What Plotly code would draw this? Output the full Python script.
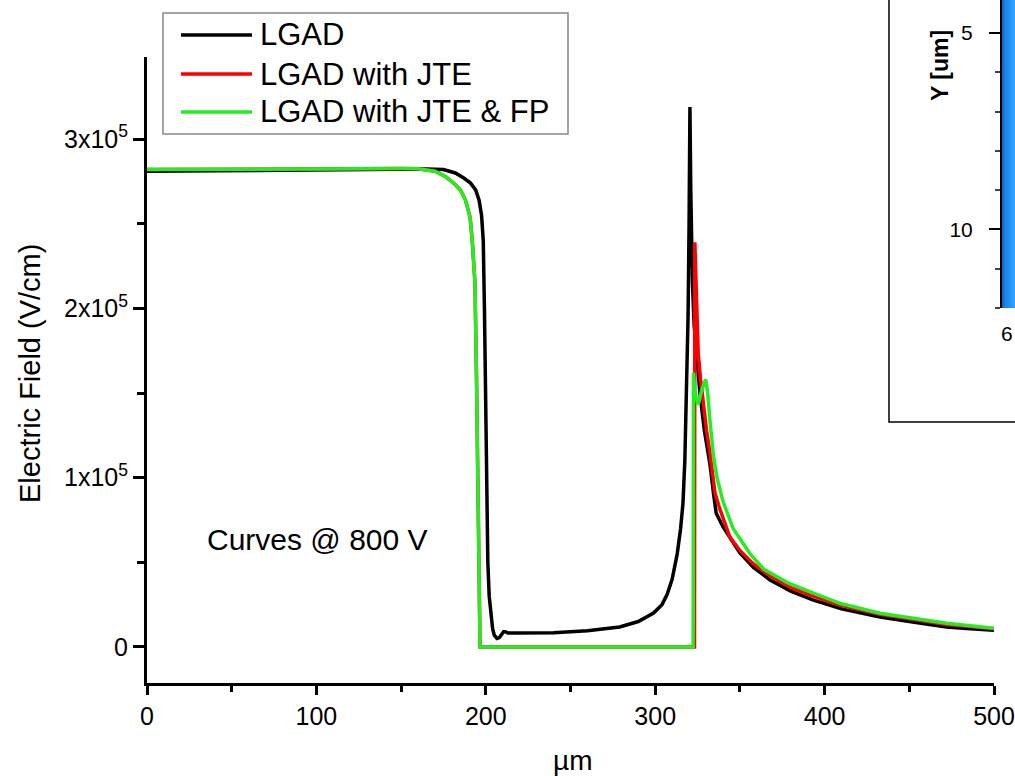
import plotly.graph_objects as go

# ---------------- data ----------------
names = ["LGAD", "LGAD with JTE", "LGAD with JTE & FP"]
colors = ["#000000", "#ff0000", "#22ee22"]

lgad_x = [0, 25, 50, 100, 150, 165, 175, 182, 187, 191, 194, 196, 197.5, 198.5, 199.2, 199.8,
          200.4, 201.2, 202, 203, 204, 205, 206.6, 208, 209.5, 210.5, 211.5, 213, 220, 240, 260,
          279, 290, 299, 304, 307, 310, 313, 315, 316.4, 317.5, 318.5, 319.4, 320, 320.5, 321,
          322, 323, 324.4, 326.4, 329, 332.3, 334.5, 336, 340, 345, 350, 358, 367.8, 380, 393,
          410, 432.7, 450, 472, 486, 500]
lgad_y = [281000, 281200, 281500, 282000, 282500, 282300, 282000, 280000, 277000, 274000, 270000,
          264000, 255000, 240000, 200000, 150000, 100000, 50000, 30000, 18000, 11000, 7000, 5000,
          5500, 7500, 9000, 9000, 8300, 8200, 8400, 9500, 11800, 15000, 20000, 25000, 31000, 40000,
          55000, 70000, 85000, 110000, 150000, 195000, 250000, 319000, 270000, 215000, 190000,
          174000, 150000, 128000, 108000, 90000, 79000, 71000, 63000, 55600, 47000, 39600, 33000,
          27800, 22500, 17700, 15000, 11800, 10800, 9800]

jte_x = [0, 25, 50, 100, 150, 160, 170, 176, 181, 185, 188, 190.7, 192, 193.6, 194.5, 195.3, 196,
         196.6, 250, 323.2, 323.4, 324.3, 325.4, 326.8, 328.4, 330.3, 332.3, 334, 335.3, 338, 344,
         350, 358, 367.8, 380, 393, 410, 432.7, 450, 472, 486, 500]
jte_y = [282000, 282000, 282200, 282400, 282600, 282500, 281000, 278000, 274000, 270000, 264000,
         254000, 240000, 215000, 160000, 100000, 40000, 0, 0, 0, 239000, 210000, 173500, 158000,
         144000, 128000, 114500, 100000, 91000, 82000, 65000, 57000, 49000, 42000, 35000, 30000,
         24500, 19300, 16500, 13300, 12000, 10800]

fp_x = [0, 25, 50, 100, 150, 160, 170, 176, 181, 185, 188, 190.7, 192, 193.6, 194.5, 195.3, 196,
        196.6, 250, 322.4, 322.6, 323.5, 325.4, 327.5, 329.8, 331, 332.3, 334.5, 336.5, 340, 346,
        356, 364, 378, 393, 410, 432.7, 450, 472, 486, 500]
fp_y = [282000, 282000, 282200, 282400, 282600, 282500, 281000, 278000, 274000, 270000, 264000,
        254000, 240000, 215000, 160000, 100000, 40000, 0, 0, 0, 162000, 150000, 143000, 152000,
        158000, 150000, 134000, 112000, 100000, 86000, 70000, 55000, 46000, 38000, 31900, 25500,
        19900, 17300, 14000, 12500, 11000]

x_ticks = [0, 100, 200, 300, 400, 500]
y_ticks = [0, 100000, 200000, 300000]
y_ticktext = ["0", "1x10<sup>5</sup>", "2x10<sup>5</sup>", "3x10<sup>5</sup>"]

# inset (cropped 2-D map, only a sliver visible)
inset_x = [60, 60.25, 60.5, 60.75, 61]
inset_y = [4, 12]
inset_z = [[0, 1, 2, 3, 4], [0, 1, 2, 3, 4]]
inset_ticks = [5, 10]

# ---------------- figure ----------------
W, H = 1015, 776
FONT = "Liberation Sans, Arial, sans-serif"


def px(xp):
    return xp / W


def py(yp):
    return 1 - yp / H


fig = go.Figure()
for xs, ys, nm, c in zip([lgad_x, jte_x, fp_x], [lgad_y, jte_y, fp_y], names, colors):
    fig.add_trace(go.Scatter(x=xs, y=ys, mode="lines", name=nm,
                             line=dict(color=c, width=3.5), showlegend=False,
                             xaxis="x", yaxis="y"))

fig.add_trace(go.Heatmap(x=inset_x, y=inset_y, z=inset_z, zsmooth="best", showscale=False,
                         colorscale=[[0, "#1460cc"], [0.25, "#1a86ec"], [1, "#35a6ff"]],
                         xaxis="x2", yaxis="y2", hoverinfo="skip", showlegend=False))

fig.update_layout(
    width=W, height=H, autosize=False, showlegend=False,
    margin=dict(l=0, r=0, t=0, b=0, pad=0, autoexpand=False),
    paper_bgcolor="white", plot_bgcolor="white",
    font=dict(family=FONT, color="black"),
    xaxis=dict(domain=[px(147), px(994)], range=[0, 500], tickvals=x_ticks,
               showgrid=False, zeroline=False, showline=True, linecolor="black", linewidth=3,
               ticks="outside", ticklen=9, tickwidth=3, tickcolor="black",
               minor=dict(ticks="outside", ticklen=6, tickwidth=3, dtick=50, tickcolor="black"),
               tickfont=dict(size=25, family=FONT), anchor="y", automargin=False),
    yaxis=dict(domain=[py(683), py(57)], range=[-21300, 348500], tickvals=y_ticks,
               ticktext=y_ticktext,
               showgrid=False, zeroline=False, showline=True, linecolor="black", linewidth=3,
               ticks="outside", ticklen=11, tickwidth=3, tickcolor="black",
               minor=dict(ticks="outside", ticklen=7, tickwidth=3, dtick=50000, tickcolor="black"),
               tickfont=dict(size=25, family=FONT), anchor="x", automargin=False),
    xaxis2=dict(domain=[px(1002), 1], range=[60, 61], visible=False, anchor="y2",
                automargin=False),
    yaxis2=dict(domain=[py(308), 1], range=[12, 4.16], tickvals=inset_ticks,
                showgrid=False, zeroline=False, showline=True, linecolor="black", linewidth=2,
                ticks="outside", ticklen=11, tickwidth=2, tickcolor="black",
                minor=dict(ticks="outside", ticklen=5, tickwidth=1.5, dtick=1, tickcolor="#444"),
                tickfont=dict(size=21, family=FONT), anchor="x2", ticklabelstandoff=12,
                automargin=False),
)

shapes = []
annotations = []
# inset frame
shapes.append(dict(type="rect", xref="paper", yref="paper", x0=px(889), x1=px(1030),
                   y0=py(422), y1=py(-10), line=dict(color="black", width=1.5),
                   fillcolor="white", layer="below"))
# legend box
shapes.append(dict(type="rect", xref="paper", yref="paper", x0=px(163), x1=px(568),
                   y0=py(134), y1=py(13), line=dict(color="#888888", width=1.5),
                   fillcolor="white", layer="above"))
leg_rows = [35, 74, 112]
for nm, c, yy in zip(names, colors, leg_rows):
    shapes.append(dict(type="line", xref="paper", yref="paper", x0=px(181), x1=px(252),
                       y0=py(yy), y1=py(yy), line=dict(color=c, width=3.5), layer="above"))
    annotations.append(dict(text=nm, xref="paper", yref="paper", x=px(258), y=py(yy),
                            xanchor="left", yanchor="middle", showarrow=False,
                            font=dict(size=31, family=FONT)))

annotations += [
    dict(text="Curves @ 800 V", xref="x", yref="y", x=34.5, y=63500, xanchor="left",
         yanchor="middle", showarrow=False, font=dict(size=30, family=FONT)),
    dict(text="Electric Field (V/cm)", xref="paper", yref="paper", x=px(30), y=py(374),
         textangle=-90, xanchor="center", yanchor="middle", showarrow=False,
         font=dict(size=29, family=FONT)),
    dict(text="\u00b5m", xref="paper", yref="paper", x=px(572), y=py(760), xanchor="center",
         yanchor="middle", showarrow=False, font=dict(size=28, family=FONT)),
    dict(text="<b>Y [um]</b>", xref="paper", yref="paper", x=px(940), y=py(66), textangle=-90,
         xanchor="center", yanchor="middle", showarrow=False, font=dict(size=23, family=FONT)),
    dict(text="6", xref="paper", yref="paper", x=px(1015), y=py(333), xanchor="right",
         yanchor="middle", showarrow=False, font=dict(size=21, family=FONT)),
]
fig.update_layout(shapes=shapes, annotations=annotations)

fig.write_html("out.html",
               config={"displayModeBar": False},
               post_script="document.body.style.margin='0';"
                           "document.documentElement.style.overflow='hidden';")
